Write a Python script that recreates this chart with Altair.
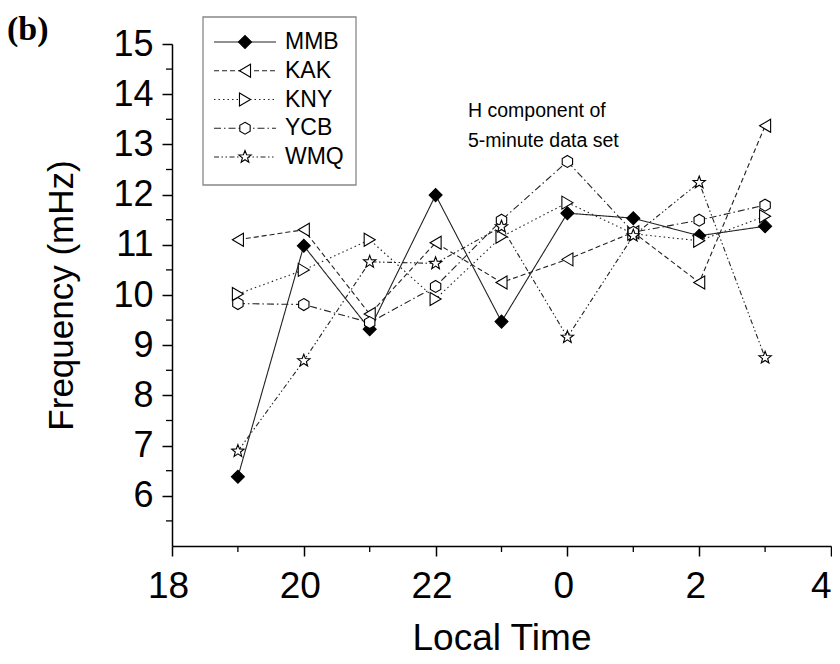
import math
import altair as alt
import pandas as pd

# ---------------- data ----------------
hours = [19, 20, 21, 22, 23, 24, 25, 26, 27]
series_names = ["MMB", "KAK", "KNY", "YCB", "WMQ"]
mmb = [6.38, 10.98, 9.32, 11.99, 9.47, 11.63, 11.53, 11.18, 11.37]
kak = [11.10, 11.30, 9.62, 11.04, 10.25, 10.71, 11.25, 10.25, 13.37]
kny = [10.02, 10.50, 11.10, 9.92, 11.16, 11.84, 11.22, 11.08, 11.57]
ycb = [9.83, 9.81, 9.45, 10.17, 11.49, 12.66, 11.25, 11.49, 11.79]
wmq = [6.89, 8.69, 10.66, 10.63, 11.36, 9.16, 11.18, 12.24, 8.75]

x_ticks = [18, 20, 22, 24, 26, 28]
x_minor = [19, 21, 23, 25, 27]
y_ticks = [6, 7, 8, 9, 10, 11, 12, 13, 14, 15]
y_minor = [5.5, 6.5, 7.5, 8.5, 9.5, 10.5, 11.5, 12.5, 13.5, 14.5]
annotation_text = "H component of\n5-minute data set"
panel_label = "(b)"

rows = []
for name, vals in zip(series_names, [mmb, kak, kny, ycb, wmq]):
    for h, v in zip(hours, vals):
        rows.append({"series": name, "hour": h, "freq": v})
df = pd.DataFrame(rows)
legend_df = pd.DataFrame({"series": series_names})

# ---------------- marker shapes (svg paths, unit size) ----------------
def f(v):
    return f"{v:.3f}"

def diamond():
    return "M-1,0L0,-1L1,0L0,1Z"

def tri_left():
    return "M-0.85,0L0.85,-1L0.85,1Z"

def tri_right():
    return "M0.85,0L-0.85,-1L-0.85,1Z"

def hexagon(r=0.92):
    pts = [(r * math.cos(math.radians(a)), r * math.sin(math.radians(a)))
           for a in range(-90, 270, 60)]
    return "M" + "L".join(f"{f(x)},{f(y)}" for x, y in pts) + "Z"

def star(ro=1.0, ri=0.42):
    pts = []
    for k in range(10):
        r = ro if k % 2 == 0 else ri
        a = math.radians(-90 + 36 * k)
        pts.append((r * math.cos(a), r * math.sin(a)))
    return "M" + "L".join(f"{f(x)},{f(y)}" for x, y in pts) + "Z"

marker_paths = [diamond(), tri_left(), tri_right(), hexagon(), star()]
fills = ["black", "white", "white", "white", "white"]
line_dashes = [[1, 0], [5, 3], [1.5, 3], [7, 3, 1.5, 3], [5, 2.5, 1.5, 2.5, 1.5, 2.5]]

FONT = "Liberation Sans"
LINE_COLOR = "#222222"

shape_scale = alt.Scale(domain=series_names, range=marker_paths)
fill_scale = alt.Scale(domain=series_names, range=fills)
dash_scale = alt.Scale(domain=series_names, range=line_dashes)
x_scale = alt.Scale(domain=[18, 28], nice=False, zero=False)
y_scale = alt.Scale(domain=[5, 15], nice=False, zero=False)

x_axis = alt.Axis(
    values=x_ticks,
    labelExpr="datum.value >= 24 ? datum.value - 24 : datum.value",
    title="Local Time", grid=False, tickSize=10, labelPadding=12, titlePadding=16,
    labelFontSize=37, titleFontSize=37,
    labelAlign={"condition": {"test": "datum.value == 28", "value": "right"}, "value": "center"},
    labelOffset={"condition": {"test": "datum.value == 28", "value": 0}, "value": -4},
)
y_axis = alt.Axis(
    values=y_ticks, title="Frequency (mHz)", grid=False, tickSize=10,
    labelPadding=9, titlePadding=33, labelFontSize=36, titleFontSize=35,
)

x_enc = alt.X("hour:Q", scale=x_scale, axis=x_axis)
y_enc = alt.Y("freq:Q", scale=y_scale, axis=y_axis)

base = alt.Chart(df)

lines = base.mark_line(color=LINE_COLOR, strokeWidth=1.1).encode(
    x=x_enc, y=y_enc,
    strokeDash=alt.StrokeDash("series:N", scale=dash_scale, legend=None),
    order="hour:Q",
)

points = base.mark_point(opacity=1, stroke="black", strokeWidth=1.1, size=169).encode(
    x=x_enc, y=y_enc,
    shape=alt.Shape("series:N", scale=shape_scale, legend=None),
    fill=alt.Fill("series:N", scale=fill_scale, legend=None),
)

y_minor_ticks = alt.Chart(pd.DataFrame({"freq": y_minor})).mark_rule(color="black", strokeWidth=1.3).encode(
    y=y_enc, x=alt.value(-6), x2=alt.value(0)
)
x_minor_ticks = alt.Chart(pd.DataFrame({"hour": x_minor})).mark_rule(color="black", strokeWidth=1.3).encode(
    x=x_enc, y=alt.value(502), y2=alt.value(508)
)

annotation = alt.Chart(pd.DataFrame({"t": [annotation_text]})).mark_text(
    align="left", baseline="alphabetic", font=FONT, fontSize=19.5, lineBreak="\n", lineHeight=30, color="black"
).encode(text="t:N", x=alt.value(296), y=alt.value(73))

label_b = alt.Chart(pd.DataFrame({"t": [panel_label]})).mark_text(
    align="left", baseline="alphabetic", font="Liberation Serif", fontWeight="bold", fontSize=34, color="black"
).encode(text="t:N", x=alt.value(-165), y=alt.value(-4))

main = alt.layer(lines, points, y_minor_ticks, x_minor_ticks, annotation, label_b)

# ---------------- legend (key box) ----------------
row_enc = alt.Y("series:N", scale=alt.Scale(type="point", domain=series_names, range=[-2, 113], padding=0), axis=None)
leg_base = alt.Chart(legend_df)

leg_box = alt.Chart(pd.DataFrame({"b": [0]})).mark_rect(
    fill="white", stroke="#888888", strokeWidth=1.3
).encode(x=alt.value(31), x2=alt.value(184), y=alt.value(-27), y2=alt.value(141))

leg_lines = leg_base.mark_rule(color=LINE_COLOR, strokeWidth=1.1).encode(
    y=row_enc, x=alt.value(42), x2=alt.value(104),
    strokeDash=alt.StrokeDash("series:N", scale=dash_scale, legend=None),
)
leg_points = leg_base.mark_point(opacity=1, stroke="black", strokeWidth=1.1, size=169).encode(
    y=row_enc, x=alt.value(73),
    shape=alt.Shape("series:N", scale=shape_scale, legend=None),
    fill=alt.Fill("series:N", scale=fill_scale, legend=None),
)
leg_labels = leg_base.mark_text(
    align="left", baseline="middle", font=FONT, fontSize=23, color="black"
).encode(y=row_enc, x=alt.value(113), text="series:N")

legend_layer = alt.layer(leg_box, leg_lines, leg_points, leg_labels)

chart = alt.layer(main, legend_layer).resolve_scale(
    y="independent"
).properties(
    width=659, height=502,
    autosize=alt.AutoSizeParams(type="none"),
    padding={"left": 164, "top": 36, "right": 1, "bottom": 110},
    background="white",
).configure_view(stroke=None).configure_axis(
    domainColor="black", domainWidth=1.5, tickColor="black", tickWidth=1.5,
    labelColor="black", titleColor="black", labelFont=FONT, titleFont=FONT,
    titleFontWeight="normal",
)

chart.save("out.html", embed_options={"renderer": "svg", "actions": False})
